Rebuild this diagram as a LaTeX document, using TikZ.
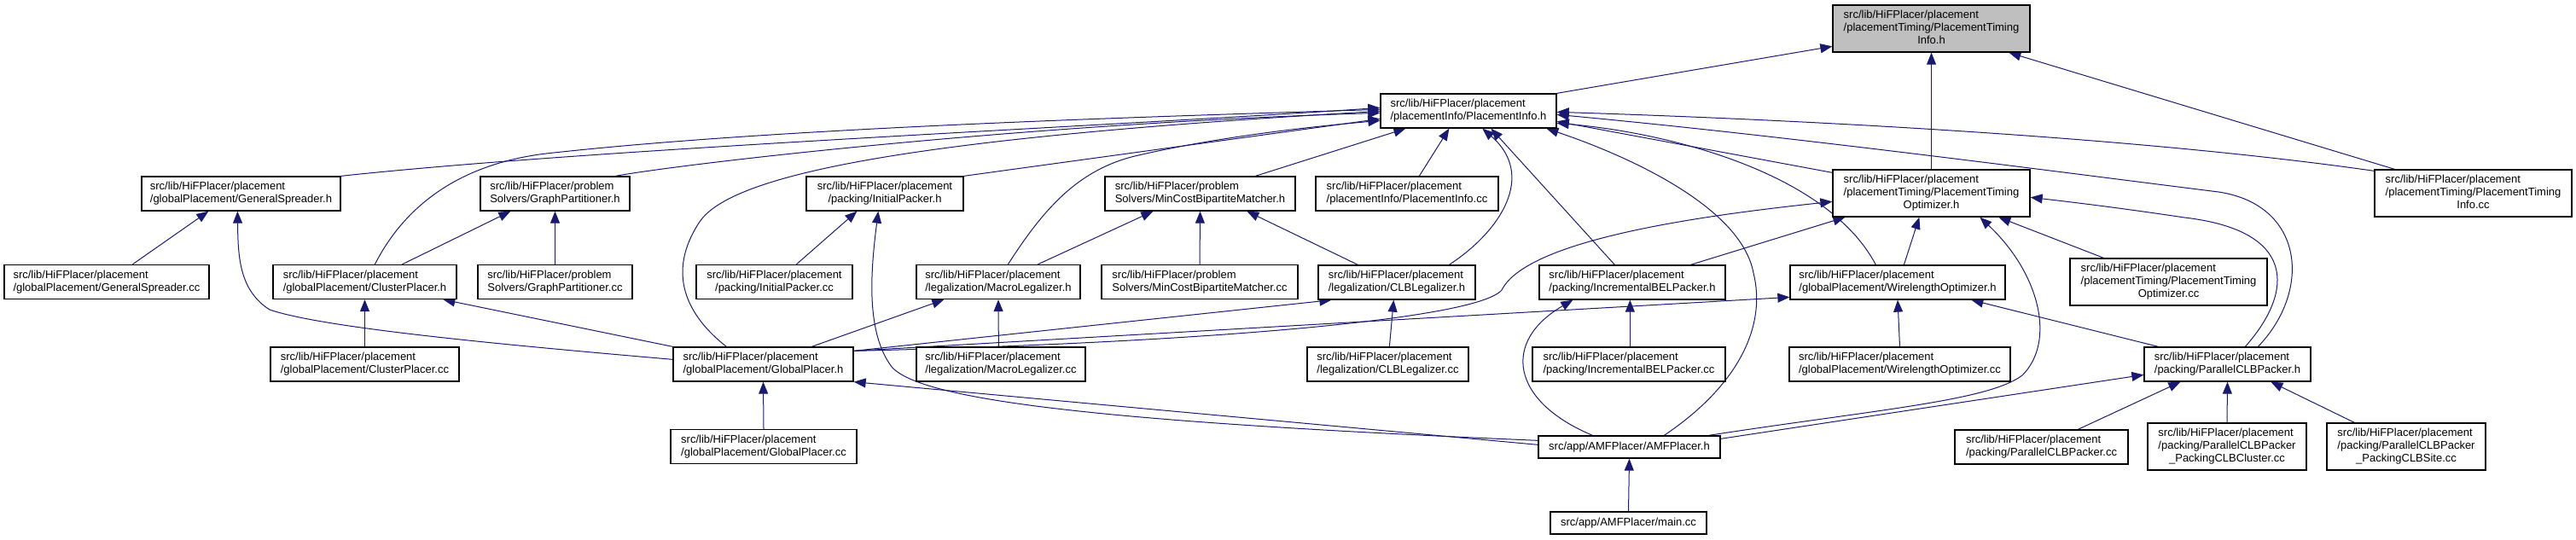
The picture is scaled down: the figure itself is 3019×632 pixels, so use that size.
\documentclass[tikz,border=0pt]{standalone}
\usepackage{fontspec}
\setmainfont{Liberation Sans}
\usetikzlibrary{arrows.meta}
\definecolor{edgeblue}{HTML}{191970}
\definecolor{rootgray}{HTML}{BFBFBF}
\newcommand{\twol}[2]{\begin{tabular}{@{}l@{}}#1\\\multicolumn{1}{@{}c@{}}{#2}\end{tabular}}
\pgfdeclarelayer{bg}
\pgfsetlayers{bg,main}
\tikzset{
  file/.style={draw=black, line width=1.3pt, fill=white, inner sep=0pt, text=black,
    font=\fontsize{13}{15}\selectfont},
  rootfile/.style={file, fill=rootgray},
  inc/.style={draw=edgeblue, line width=1pt, -{Triangle[length=14pt,width=11pt]}}
}
\begin{document}
\begin{tikzpicture}[x=1pt,y=-1pt]
\useasboundingbox (0,0) rectangle (3019,632);
% row 0
\node[rootfile, minimum width=231pt, minimum height=55pt] (tinfo) at (2263.5,33.5) {\twol{src/lib/HiFPlacer/placement\\/placementTiming/PlacementTiming}{Info.h}};
% row 1
\node[file, minimum width=206pt, minimum height=40pt] (pinfo) at (1721,130) {\twol{src/lib/HiFPlacer/placement}{/placementInfo/PlacementInfo.h}};
% row 2
\node[file, minimum width=233pt, minimum height=40pt] (gsh) at (282.5,227) {\twol{src/lib/HiFPlacer/placement}{/globalPlacement/GeneralSpreader.h}};
\node[file, minimum width=175pt, minimum height=40pt] (gph) at (650.5,227) {\twol{src/lib/HiFPlacer/problem}{Solvers/GraphPartitioner.h}};
\node[file, minimum width=184pt, minimum height=40pt] (iph) at (1037,227) {\twol{src/lib/HiFPlacer/placement}{/packing/InitialPacker.h}};
\node[file, minimum width=223pt, minimum height=40pt] (mch) at (1406.5,227) {\twol{src/lib/HiFPlacer/problem}{Solvers/MinCostBipartiteMatcher.h}};
\node[file, minimum width=214pt, minimum height=40pt] (pinfocc) at (1649,227) {\twol{src/lib/HiFPlacer/placement}{/placementInfo/PlacementInfo.cc}};
\node[file, minimum width=231pt, minimum height=55pt] (topt) at (2263.5,226.5) {\twol{src/lib/HiFPlacer/placement\\/placementTiming/PlacementTiming}{Optimizer.h}};
\node[file, minimum width=231pt, minimum height=55pt] (tinfocc) at (2898.5,226.5) {\twol{src/lib/HiFPlacer/placement\\/placementTiming/PlacementTiming}{Info.cc}};
% row 3
\node[file, minimum width=240pt, minimum height=40pt] (gscc) at (125,330.5) {\twol{src/lib/HiFPlacer/placement}{/globalPlacement/GeneralSpreader.cc}};
\node[file, minimum width=215pt, minimum height=40pt] (cph) at (427.5,330.5) {\twol{src/lib/HiFPlacer/placement}{/globalPlacement/ClusterPlacer.h}};
\node[file, minimum width=181pt, minimum height=40pt] (gpcc) at (650.5,330.5) {\twol{src/lib/HiFPlacer/problem}{Solvers/GraphPartitioner.cc}};
\node[file, minimum width=183pt, minimum height=40pt] (ipcc) at (907.5,330.5) {\twol{src/lib/HiFPlacer/placement}{/packing/InitialPacker.cc}};
\node[file, minimum width=192pt, minimum height=40pt] (mlh) at (1170,330.5) {\twol{src/lib/HiFPlacer/placement}{/legalization/MacroLegalizer.h}};
\node[file, minimum width=230pt, minimum height=40pt] (mccc) at (1406,330.5) {\twol{src/lib/HiFPlacer/problem}{Solvers/MinCostBipartiteMatcher.cc}};
\node[file, minimum width=184pt, minimum height=40pt] (clbh) at (1637,331) {\twol{src/lib/HiFPlacer/placement}{/legalization/CLBLegalizer.h}};
\node[file, minimum width=218pt, minimum height=40pt] (ibph) at (1913,331) {\twol{src/lib/HiFPlacer/placement}{/packing/IncrementalBELPacker.h}};
\node[file, minimum width=252pt, minimum height=40pt] (woh) at (2224,331) {\twol{src/lib/HiFPlacer/placement}{/globalPlacement/WirelengthOptimizer.h}};
\node[file, minimum width=231pt, minimum height=55pt] (toptcc) at (2541.5,330.5) {\twol{src/lib/HiFPlacer/placement\\/placementTiming/PlacementTiming}{Optimizer.cc}};
% row 4
\node[file, minimum width=221pt, minimum height=40pt] (cpcc) at (427.5,427) {\twol{src/lib/HiFPlacer/placement}{/globalPlacement/ClusterPlacer.cc}};
\node[file, minimum width=211pt, minimum height=40pt] (gplh) at (894.5,427) {\twol{src/lib/HiFPlacer/placement}{/globalPlacement/GlobalPlacer.h}};
\node[file, minimum width=198pt, minimum height=40pt] (mlcc) at (1173,427) {\twol{src/lib/HiFPlacer/placement}{/legalization/MacroLegalizer.cc}};
\node[file, minimum width=189pt, minimum height=40pt] (clbcc) at (1626.5,427) {\twol{src/lib/HiFPlacer/placement}{/legalization/CLBLegalizer.cc}};
\node[file, minimum width=226pt, minimum height=40pt] (ibpcc) at (1909,427) {\twol{src/lib/HiFPlacer/placement}{/packing/IncrementalBELPacker.cc}};
\node[file, minimum width=259pt, minimum height=40pt] (wocc) at (2226.5,427) {\twol{src/lib/HiFPlacer/placement}{/globalPlacement/WirelengthOptimizer.cc}};
\node[file, minimum width=195pt, minimum height=40pt] (pch) at (2610.5,427) {\twol{src/lib/HiFPlacer/placement}{/packing/ParallelCLBPacker.h}};
% row 5
\node[file, minimum width=218pt, minimum height=40pt] (gplcc) at (895,523.5) {\twol{src/lib/HiFPlacer/placement}{/globalPlacement/GlobalPlacer.cc}};
\node[file, minimum width=213pt, minimum height=26pt] (amfh) at (1909.5,524) {src/app/AMFPlacer/AMFPlacer.h};
\node[file, minimum width=203pt, minimum height=40pt] (pccc) at (2392.5,524) {\twol{src/lib/HiFPlacer/placement}{/packing/ParallelCLBPacker.cc}};
\node[file, minimum width=186pt, minimum height=55pt] (pcluster) at (2610,523.5) {\twol{src/lib/HiFPlacer/placement\\/packing/ParallelCLBPacker}{\_PackingCLBCluster.cc}};
\node[file, minimum width=186pt, minimum height=55pt] (psite) at (2820,523.5) {\twol{src/lib/HiFPlacer/placement\\/packing/ParallelCLBPacker}{\_PackingCLBSite.cc}};
% row 6
\node[file, minimum width=183pt, minimum height=26pt] (main) at (1908.5,613) {src/app/AMFPlacer/main.cc};

\begin{pgfonlayer}{bg}
% into PlacementTimingInfo.h
\draw[inc] (pinfo.north east) -- ([shift={(0,49)}]tinfo.north west);
\draw[inc] (topt.north) -- (tinfo.south);
\draw[inc] ([shift={(24,0)}]tinfocc.north west) -- ([shift={(207,0)}]tinfo.south west);
% into PlacementInfo.h
\draw[inc] (gsh.north east) .. controls (700,174) and (1300,148) .. ([shift={(0,17)}]pinfo.north west);
\draw[inc] ([shift={(120,0)}]cph.north west) .. controls (475,240) and (540,192) .. (640,180) .. controls (900,151) and (1300,138) .. ([shift={(0,19)}]pinfo.north west);
\draw[inc] ([shift={(159,0)}]gph.north west) .. controls (800,192) and (1200,145) .. ([shift={(0,23)}]pinfo.north west);
\draw[inc] (iph.north east) -- ([shift={(0,30)}]pinfo.north west);
\draw[inc] ([shift={(63,0)}]gplh.north west) .. controls (805,370) and (780,320) .. (820,260) .. controls (860,200) and (1100,160) .. ([shift={(0,21)}]pinfo.north west);
\draw[inc] ([shift={(108,0)}]mlh.north west) .. controls (1220,250) and (1260,200) .. (1330,183) .. controls (1420,162) and (1520,150) .. ([shift={(0,32)}]pinfo.north west);
\draw[inc] ([shift={(177,0)}]mch.north west) -- ([shift={(30,0)}]pinfo.south west);
\draw[inc] ([shift={(122,0)}]pinfocc.north west) -- ([shift={(81,0)}]pinfo.south west);
\draw[inc] ([shift={(154,0)}]clbh.north west) .. controls (1760,270) and (1800,205) .. ([shift={(120,0)}]pinfo.south west);
\draw[inc] ([shift={(89,0)}]ibph.north west) -- ([shift={(130,0)}]pinfo.south west);
\draw[inc] ([shift={(148,0)}]amfh.north west) .. controls (2040,450) and (2070,380) .. (2055,320) .. controls (2040,240) and (1900,180) .. ([shift={(195,0)}]pinfo.south west);
\draw[inc] ([shift={(101,0)}]woh.north west) .. controls (2140,200) and (1950,155) .. ([shift={(0,35)}]pinfo.north east);
\draw[inc] ([shift={(0,4)}]topt.north west) -- ([shift={(0,33)}]pinfo.north east);
\draw[inc] ([shift={(134,0)}]pch.north west) .. controls (2710,340) and (2700,240) .. (2600,225) .. controls (2400,200) and (2100,160) .. ([shift={(0,25)}]pinfo.north east);
\draw[inc] ([shift={(0,2)}]tinfocc.north west) .. controls (2500,160) and (2100,140) .. ([shift={(0,22)}]pinfo.north east);
% into PlacementTimingOptimizer.h
\draw[inc] ([shift={(0,5)}]gplh.north east) .. controls (1400,402) and (1730,375) .. (1760,340) .. controls (1790,280) and (2000,252) .. ([shift={(0,38)}]topt.north west);
\draw[inc] ([shift={(178,0)}]ibph.north west) -- ([shift={(15,0)}]topt.south west);
\draw[inc] ([shift={(134,0)}]woh.north west) -- ([shift={(102,0)}]topt.south west);
\draw[inc] ([shift={(40,0)}]toptcc.north west) -- ([shift={(195,0)}]topt.south west);
\draw[inc] ([shift={(-14,0)}]amfh.north east) .. controls (2200,480) and (2330,470) .. (2370,440) .. controls (2410,400) and (2390,320) .. ([shift={(173,0)}]topt.south west);
\draw[inc] ([shift={(119,0)}]pch.north west) .. controls (2690,340) and (2690,270) .. (2560,255) .. controls (2480,243) and (2420,236) .. ([shift={(0,33)}]topt.north east);
% into GeneralSpreader.h
\draw[inc] ([shift={(151,0)}]gscc.north west) -- ([shift={(79,0)}]gsh.south west);
\draw[inc] ([shift={(0,15)}]gplh.north west) .. controls (600,405) and (380,385) .. (316,363) .. controls (280,340) and (279,300) .. ([shift={(113,0)}]gsh.south west);
% into GraphPartitioner.h
\draw[inc] ([shift={(152,0)}]cph.north west) -- ([shift={(36,0)}]gph.south west);
\draw[inc] (gpcc.north) -- (gph.south);
% into ClusterPlacer.h
\draw[inc] (cpcc.north) -- (cph.south);
\draw[inc] (gplh.north west) -- ([shift={(200,0)}]cph.south west);
% into InitialPacker.h
\draw[inc] ([shift={(118,0)}]ipcc.north west) -- ([shift={(60,0)}]iph.south west);
\draw[inc] ([shift={(0,6)}]amfh.north west) .. controls (1300,495) and (1080,470) .. (1045,430) .. controls (1015,390) and (1020,320) .. ([shift={(85,0)}]iph.south west);
% into MinCostBipartiteMatcher.h
\draw[inc] ([shift={(143,0)}]mlh.north west) -- ([shift={(57,0)}]mch.south west);
\draw[inc] (mccc.north) -- (mch.south);
\draw[inc] ([shift={(47,0)}]clbh.north west) -- ([shift={(167,0)}]mch.south west);
% into MacroLegalizer.h
\draw[inc] ([shift={(163,0)}]gplh.north west) -- ([shift={(33,0)}]mlh.south west);
\draw[inc] ([shift={(97,0)}]mlcc.north west) -- (mlh.south);
% into CLBLegalizer.h
\draw[inc] ([shift={(0,5)}]gplh.north east) -- ([shift={(16,0)}]clbh.south west);
\draw[inc] ([shift={(97,0)}]clbcc.north west) -- ([shift={(89,0)}]clbh.south west);
% into IncrementalBELPacker.h
\draw[inc] ([shift={(115,0)}]ibpcc.north west) -- ([shift={(107,0)}]ibph.south west);
\draw[inc] ([shift={(64,0)}]amfh.north west) .. controls (1770,470) and (1760,400) .. ([shift={(40,0)}]ibph.south west);
% into WirelengthOptimizer.h
\draw[inc] (wocc.north) -- (woh.south);
\draw[inc] ([shift={(17,0)}]pch.north west) -- ([shift={(213,0)}]woh.south west);
\draw[inc] ([shift={(0,5)}]gplh.north east) -- ([shift={(0,38)}]woh.north west);
% into ParallelCLBPacker.h
\draw[inc] ([shift={(145,0)}]pccc.north west) -- ([shift={(43,0)}]pch.south west);
\draw[inc] (pcluster.north) -- (pch.south);
\draw[inc] ([shift={(33,0)}]psite.north west) -- ([shift={(149,0)}]pch.south west);
\draw[inc] ([shift={(0,4)}]amfh.north east) -- ([shift={(0,33)}]pch.north west);
% into GlobalPlacer.h
\draw[inc] (gplcc.north) -- (gplh.south);
\draw[inc] ([shift={(0,11)}]amfh.north west) -- (gplh.south east);
% into AMFPlacer.h
\draw[inc] (main.north) -- (amfh.south);
\end{pgfonlayer}
\end{tikzpicture}
\end{document}
